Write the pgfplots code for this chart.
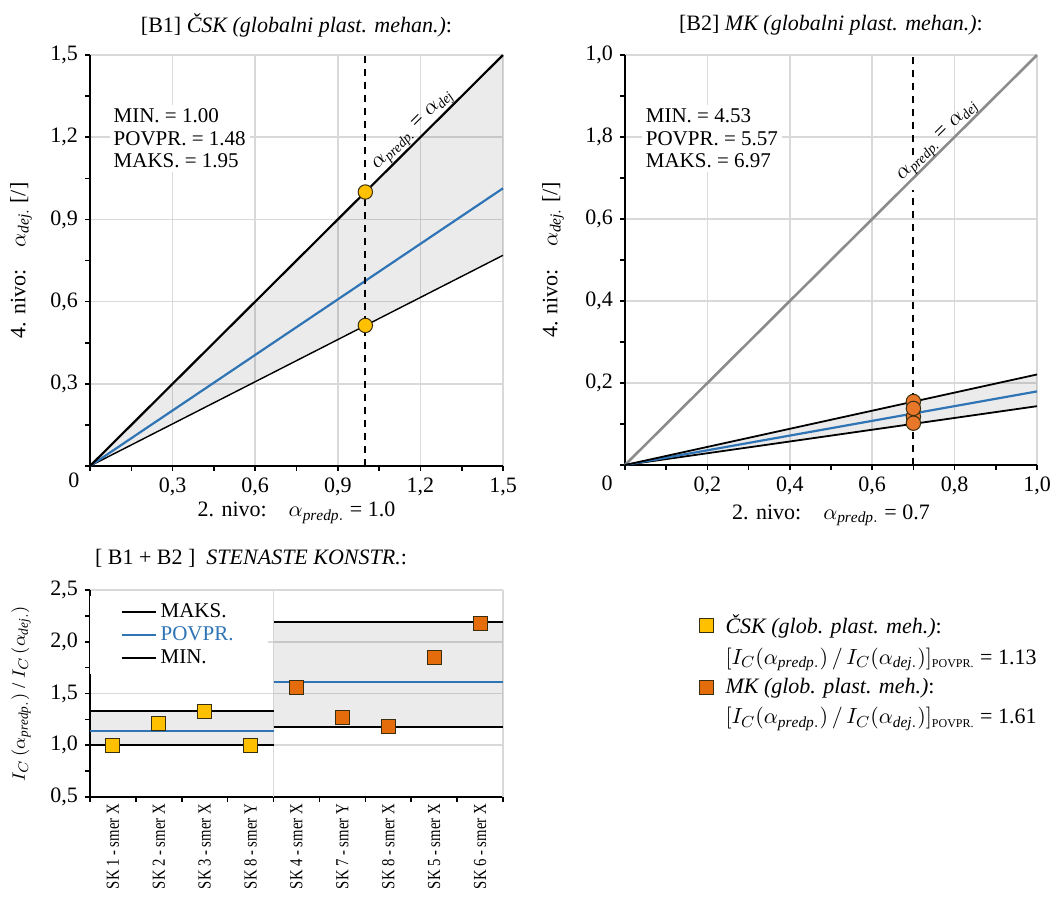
\documentclass[border=0pt]{standalone}
\usepackage{amsmath}
\usepackage{fontspec}
\setmainfont{Liberation Serif}
\newfontfamily\condfont[FakeStretch=0.8]{Liberation Serif}
\usepackage{pgfplots}
\pgfplotsset{compat=1.18}
\definecolor{cblue}{HTML}{2F74B5}
\definecolor{cyel}{HTML}{FFC000}
\definecolor{corg}{HTML}{E46C0A}
\definecolor{corgc}{HTML}{E8772A}
\definecolor{cgrid}{HTML}{D9D9D9}
\definecolor{cdiag}{HTML}{8C8C8C}
\definecolor{cedge}{HTML}{3A2E10}
\newcommand{\fs}[1]{\fontsize{#1}{#1}\selectfont}
\newcommand{\diaglabel}{$\alpha_{\text{\fs{7}\itshape predp.}}$ = $\alpha_{\text{\fs{7}\itshape dej}}$}
\pgfplotsset{
  mystyle/.style={
    scale only axis,
    anchor=south west,
    axis lines=left,
    axis line style={-, line width=1pt, black},
    tick align=outside,
    major tick length=2.5pt,
    minor tick length=2.5pt,
    tick style={black, line width=0.8pt},
    grid=major,
    major grid style={cgrid, line width=0.8pt},
    tick label style={font=\fs{11}},
    label style={font=\fs{11}},
    title style={font=\fs{11}, at={(0.5,1)}, anchor=center, yshift=9pt},
    clip=false,
  }
}
\begin{document}
\begin{tikzpicture}
\useasboundingbox (0,0) rectangle (525pt,-448pt);

% ---------- [B1] ----------
\begin{axis}[mystyle, at={(45pt,-233pt)}, width=206.5pt, height=205.5pt,
  xmin=0, xmax=1.5, ymin=0, ymax=1.5,
  xtick={0,0.3,0.6,0.9,1.2,1.5}, xticklabels={,{0,3},{0,6},{0,9},{1,2},{1,5}},
  ytick={0,0.3,0.6,0.9,1.2,1.5}, yticklabels={,{0,3},{0,6},{0,9},{1,2},{1,5}},
  minor xtick={0.15,0.45,0.75,1.05,1.35}, minor ytick={0.15,0.45,0.75,1.05,1.35},
  title={[B1] \textit{ČSK (globalni plast. mehan.)}:},
  xlabel={2. nivo:\quad$\alpha_{\mathit{predp.}}$ = 1.0},
  xlabel style={at={(axis description cs:0.5,-0.114)}, anchor=center},
  ylabel={4. nivo:\quad$\alpha_{\mathit{dej.}}$ [/]},
  ylabel style={at={(axis description cs:-0.167,0.5)}, anchor=center},
]
\addplot[draw=none, fill=black, fill opacity=0.08] coordinates {(0,0) (1.5,1.5) (1.5,0.769) (0,0)};
\addplot[black, line width=0.7pt] coordinates {(0,0) (1.5,0.769)};
\addplot[cblue, line width=1.1pt] coordinates {(0,0) (1.5,1.0135)};
\addplot[black, line width=1.1pt] coordinates {(0,0) (1.5,1.5)};
\addplot[black, line width=0.9pt, dash pattern=on 3.5pt off 3pt] coordinates {(1,0) (1,1.5)};
\addplot[only marks, mark=*, mark size=3.6pt, mark options={fill=cyel, draw=cedge, line width=0.5pt}] coordinates {(1,1.0) (1,0.513)};
\node[rotate=45, anchor=south, font=\fs{11}, inner sep=0.5pt] at (axis cs:1.2,1.2) {\diaglabel};
\node[anchor=north west, fill=white, align=left, inner sep=2pt, font=\fontsize{10.5}{11.25}\selectfont] at (axis cs:0.07,1.32) {MIN. = 1.00\\POVPR. = 1.48\\MAKS. = 1.95};
\node[font=\fs{11}, xshift=-8pt, yshift=-7pt] at (axis cs:0,0) {0};
\end{axis}

% ---------- [B2] ----------
\begin{axis}[mystyle, at={(312.5pt,-232.5pt)}, width=206pt, height=205pt,
  xmin=0, xmax=1, ymin=0, ymax=1,
  xtick={0,0.2,0.4,0.6,0.8,1}, xticklabels={,{0,2},{0,4},{0,6},{0,8},{1,0}},
  ytick={0,0.2,0.4,0.6,0.8,1}, yticklabels={,{0,2},{0,4},{0,6},{1,8},{1,0}},
  minor xtick={0.1,0.3,0.5,0.7,0.9}, minor ytick={0.1,0.3,0.5,0.7,0.9},
  title={[B2] \textit{MK (globalni plast. mehan.)}:},
  xlabel={2. nivo:\quad$\alpha_{\mathit{predp.}}$ = 0.7},
  xlabel style={at={(axis description cs:0.5,-0.122)}, anchor=center},
  ylabel={4. nivo:\quad$\alpha_{\mathit{dej.}}$ [/]},
  ylabel style={at={(axis description cs:-0.175,0.5)}, anchor=center},
]
\addplot[draw=none, fill=black, fill opacity=0.08] coordinates {(0,0) (1,0.2208) (1,0.1435) (0,0)};
\addplot[cdiag, line width=1.3pt] coordinates {(0,0) (1,1)};
\addplot[black, line width=0.9pt] coordinates {(0,0) (1,0.1435)};
\addplot[cblue, line width=1.1pt] coordinates {(0,0) (1,0.1795)};
\addplot[black, line width=0.9pt] coordinates {(0,0) (1,0.2208)};
\node[rotate=45, anchor=south, font=\fs{11}, inner sep=0pt] at (axis cs:0.775,0.775) {\diaglabel};
\addplot[black, line width=1pt, dash pattern=on 3.5pt off 3pt] coordinates {(0.7,0) (0.7,0.67)};
\addplot[black, line width=1pt, dash pattern=on 3.5pt off 3pt] coordinates {(0.7,0.755) (0.7,1)};
\addplot[only marks, mark=*, mark size=3.6pt, mark options={fill=corgc, draw=cedge, line width=0.5pt}] coordinates {(0.7,0.155) (0.7,0.118) (0.7,0.138) (0.7,0.102)};
\node[anchor=north west, fill=white, align=left, inner sep=2pt, font=\fontsize{10.5}{11.25}\selectfont] at (axis cs:0.04,0.88) {MIN. = 4.53\\POVPR. = 5.57\\MAKS. = 6.97};
\node[font=\fs{11}, xshift=-9pt, yshift=-9pt] at (axis cs:0,0) {0};
\end{axis}

% ---------- [B1+B2] ----------
\begin{axis}[mystyle, at={(45pt,-398.5pt)}, width=206.5pt, height=103.5pt,
  xmin=0.5, xmax=9.5, ymin=0.5, ymax=2.5,
  xmajorgrids=false, ymajorgrids=true,
  xtick={0.5,1.5,2.5,3.5,4.5,5.5,6.5,7.5,8.5,9.5}, xticklabels={},
  extra x ticks={1,2,3,4,5,6,7,8,9},
  extra x tick labels={SK 1 - smer X, SK 2 - smer X, SK 3 - smer X, SK 8 - smer Y, SK 4 - smer X, SK 7 - smer Y, SK 8 - smer X, SK 5 - smer X, SK 6 - smer X},
  extra x tick style={grid=none, major tick length=0pt, tick label style={rotate=90, anchor=east, font=\condfont\fs{9.2}}},
  xticklabel shift=0pt,
  ytick={0.5,1,1.5,2,2.5}, yticklabels={{0,5},{1,0},{1,5},{2,0},{2,5}},
  minor ytick={0.75,1.25,1.75,2.25},
  ylabel={$I_C\,(\alpha_{\mathit{predp.}})$ / $I_C\,(\alpha_{\mathit{dej.}})$},
  ylabel style={at={(axis description cs:-0.167,0.5)}, anchor=center, font=\fs{9.5}},
  legend style={at={(axis description cs:1.436,0.92)}, anchor=north west, draw=none, fill=none, font=\fs{11}, row sep=1.5pt, column sep=4pt},
  legend cell align=left,
]
\addplot[forget plot, cgrid, line width=0.8pt] coordinates {(4.5,0.5) (4.5,2.5)};
\addplot[forget plot, cgrid, line width=0.8pt] coordinates {(9.5,0.5) (9.5,2.5)};
\addplot[forget plot, draw=none, fill=black, fill opacity=0.08] coordinates {(0.5,1.0) (4.5,1.0) (4.5,1.33) (0.5,1.33) (0.5,1.0)};
\addplot[forget plot, draw=none, fill=black, fill opacity=0.08] coordinates {(4.5,1.177) (9.5,1.177) (9.5,2.19) (4.5,2.19) (4.5,1.177)};
\addplot[forget plot, black, line width=0.9pt] coordinates {(0.5,1.33) (4.5,1.33)};
\addplot[forget plot, cblue, line width=1.1pt] coordinates {(0.5,1.135) (4.5,1.135)};
\addplot[forget plot, black, line width=0.9pt] coordinates {(0.5,1.0) (4.5,1.0)};
\addplot[forget plot, black, line width=0.9pt] coordinates {(4.5,2.19) (9.5,2.19)};
\addplot[forget plot, cblue, line width=1.1pt] coordinates {(4.5,1.608) (9.5,1.608)};
\addplot[forget plot, black, line width=0.9pt] coordinates {(4.5,1.177) (9.5,1.177)};
\addplot[only marks, mark=square*, mark size=3.5pt, mark options={fill=cyel, draw=cedge, line width=0.5pt}] coordinates {(1,1.00) (2,1.21) (3,1.33) (4,1.00)};
\addlegendentry{\textit{ČSK (glob. plast. meh.)}:}
\addlegendimage{empty legend}
\addlegendentry{$[I_C(\alpha_{\mathit{predp.}})\,/\,I_C(\alpha_{\mathit{dej.}})]_{\text{\fs{6}POVPR.}}$ = 1.13}
\addplot[only marks, mark=square*, mark size=3.5pt, mark options={fill=corg, draw=cedge, line width=0.5pt}] coordinates {(5,1.56) (6,1.27) (7,1.18) (8,1.85) (9,2.18)};
\addlegendentry{\textit{MK (glob. plast. meh.)}:}
\addlegendimage{empty legend}
\addlegendentry{$[I_C(\alpha_{\mathit{predp.}})\,/\,I_C(\alpha_{\mathit{dej.}})]_{\text{\fs{6}POVPR.}}$ = 1.61}
\node[anchor=west, font=\fs{11}, xshift=-1pt, yshift=16pt] at (axis description cs:0,1) {[ B1 + B2 ]\enspace\textit{STENASTE KONSTR.}:};
\end{axis}

% legend for MAKS/POVPR/MIN
\begin{axis}[scale only axis, anchor=south west, at={(45pt,-398.5pt)}, width=206.5pt, height=103.5pt,
  hide axis, xmin=0, xmax=1, ymin=0, ymax=1,
  legend style={at={(axis description cs:0.0,0.975)}, anchor=north west, draw=none, fill=white, font=\fs{10.5}, row sep=-1pt, inner xsep=15pt, inner ysep=2pt},
  legend cell align=left,
  legend image code/.code={\draw[#1] (0pt,0pt) -- (17pt,0pt);},
]
\addlegendimage{black, line width=0.8pt}
\addlegendentry{MAKS.}
\addlegendimage{cblue, line width=1.1pt}
\addlegendentry{\textcolor{cblue}{POVPR.}}
\addlegendimage{black, line width=0.8pt}
\addlegendentry{MIN.}
\end{axis}
\end{tikzpicture}
\end{document}
